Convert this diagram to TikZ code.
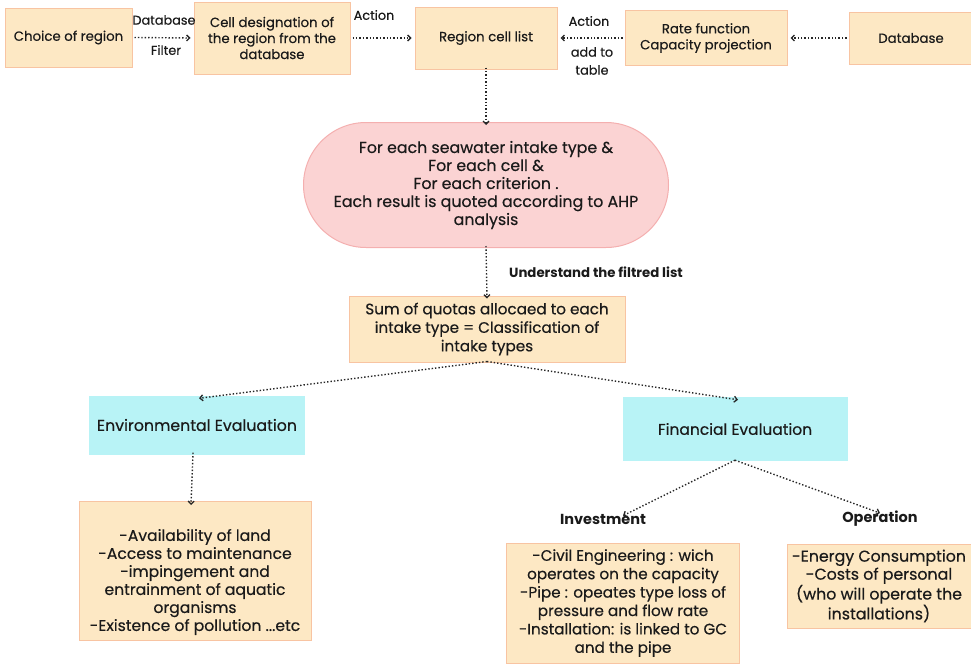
\documentclass[tikz,border=0pt]{standalone}
\usepackage{fontspec}
\setmainfont{Poppins}[UprightFeatures={FakeBold=0.4}]
\usetikzlibrary{arrows.meta,shapes.misc}
\definecolor{boxfill}{HTML}{FDE8C4}
\definecolor{boxline}{HTML}{F8C4A2}
\definecolor{cyanfill}{HTML}{B8F3F6}
\definecolor{pinkfill}{HTML}{FBD3D3}
\definecolor{pinkline}{HTML}{F4AFAF}
\definecolor{txt}{HTML}{1A1A1A}
\newcommand{\fs}[2]{\fontsize{#1}{#2}\selectfont}
\tikzset{
  base/.style={inner sep=0pt, align=center, text=txt},
  obox/.style={base, draw=boxline, line width=1pt, fill=boxfill},
  cbox/.style={base, fill=cyanfill},
  pbox/.style={base, draw=pinkline, line width=1pt, fill=pinkfill, rounded rectangle},
  lbl/.style={base, font=\fs{12.8}{15}},
  blbl/.style={base, font=\fs{14.5}{16}\bfseries},
  conn/.style={dotted, line width=1.4pt, -{Straight Barb[length=3pt,width=6pt,line width=1.3pt]}, black!85}
}
\begin{document}
\begin{tikzpicture}[x=1pt,y=-1pt]
\useasboundingbox (0,0) rectangle (971,664);
\node[obox, font=\fs{13.3}{16}, minimum width=127, minimum height=59] (choice) at (68.5,37.5) {Choice of region};
\node[obox, font=\fs{13.3}{16}, minimum width=156, minimum height=72] (cell) at (272,38) {Cell designation of\\the region from the\\database};
\node[obox, font=\fs{13.3}{16}, minimum width=142, minimum height=62] (list) at (486,38) {Region cell list};
\node[obox, font=\fs{13.3}{16}, minimum width=162, minimum height=55] (rate) at (706,38) {Rate function\\Capacity projection};
\node[obox, font=\fs{13.3}{16}, minimum width=124, minimum height=52] (db) at (911,38) {Database};
\node[pbox, font=\fs{15.8}{18}, minimum width=365, minimum height=125] (each) at (486,185) {For each seawater intake type \&\\For each cell \&\\For each criterion .\\Each result is quoted according to AHP\\analysis};
\node[obox, font=\fs{15.2}{18.5}, minimum width=276, minimum height=66] (sum) at (487,329) {Sum of quotas allocaed to each\\intake type = Classification of\\intake types};
\node[cbox, font=\fs{15.8}{18}, minimum width=216, minimum height=59] (env) at (197,425) {Environmental Evaluation};
\node[cbox, font=\fs{15.5}{18}, minimum width=225, minimum height=64] (fin) at (735,429) {Financial Evaluation};
\node[obox, minimum width=232, minimum height=139] (envl) at (195,571) {};
\node[base, font=\fs{15.6}{18}] (envt) at (195,582) {-Availability of land\\-Access to maintenance\\-impingement and\\entrainment of aquatic\\organisms\\-Existence of pollution ...etc};
\node[blbl] (inv) at (603,519) {Investment};
\node[blbl] (op) at (880,519) {Operation};
\node[obox, font=\fs{15.2}{18.4}, minimum width=233, minimum height=120] (invl) at (623,603) {-Civil Engineering : wich\\operates on the capacity\\-Pipe : opeates type loss of\\pressure and flow rate\\-Installation: is linked to GC\\and the pipe};
\node[obox, font=\fs{15.8}{18}, minimum width=184, minimum height=84] (opl) at (879,586) {-Energy Consumption\\-Costs of personal\\(who will operate the\\installations)};
\node[lbl] (l1) at (164,20) {Database};
\node[lbl] (l2) at (166,50) {Filter};
\node[lbl] (l3) at (374,15) {Action};
\node[lbl] (l4) at (589,21) {Action};
\node[lbl, font=\fs{12.8}{18}] (l5) at (592,61) {add to\\table};
\node[blbl, font=\fs{13.3}{15}\bfseries] (l6) at (596,272) {Understand the filtred list};
\draw[conn] (choice.east) ++(2,0) -- ([xshift=-3pt]cell.west);
\draw[conn] ([xshift=2pt]cell.east) -- ([xshift=-3pt]list.west);
\draw[conn] ([xshift=-2pt]rate.west) -- ([xshift=3pt]list.east);
\draw[conn] ([xshift=-2pt]db.west) -- ([xshift=3pt]rate.east);
\draw[conn] ([yshift=2pt]list.south) -- ([yshift=-3pt]each.north);
\draw[conn] ([yshift=2pt]each.south) -- ([yshift=-3pt]sum.north);
\draw[conn] ([yshift=1pt]sum.south) -- ([xshift=2pt,yshift=-3pt]env.north);
\draw[conn] ([yshift=1pt]sum.south) -- ([xshift=3pt,yshift=-3pt]fin.north);
\draw[conn] ([xshift=-4pt,yshift=2pt]env.south) -- ([xshift=-4pt,yshift=-4pt]envl.north);
\draw[conn] ([yshift=1pt]fin.south) -- ([xshift=20pt,yshift=-2pt]inv.north);
\draw[conn] ([yshift=1pt]fin.south) -- ([yshift=-2pt]op.north);
\end{tikzpicture}
\end{document}
